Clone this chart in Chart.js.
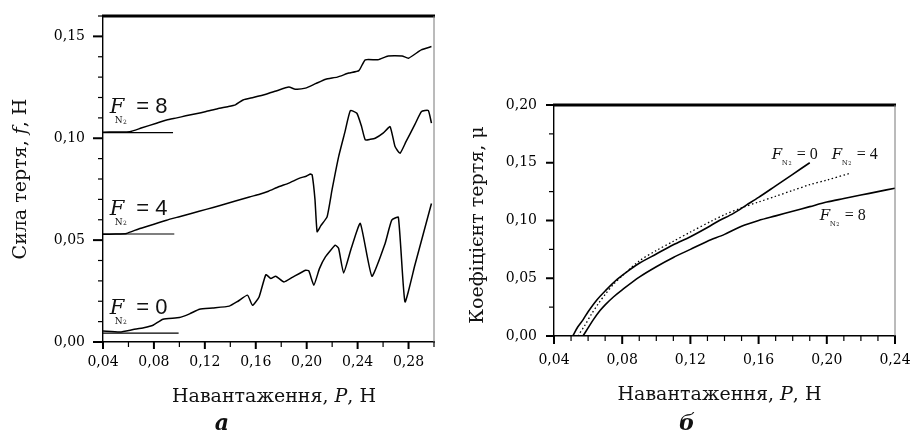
<!DOCTYPE html>
<html><head><meta charset="utf-8">
<script src="https://cdn.jsdelivr.net/npm/chart.js@4"></script>
<style>
html,body{margin:0;padding:0;background:#fff;}
#wrap{position:relative;width:912px;height:433px;background:#fff;}
canvas{position:absolute;left:0;top:0;}
</style></head><body>
<div id="wrap"><canvas id="cA" width="912" height="433"></canvas><canvas id="cB" width="912" height="433"></canvas></div>
<script>
// ---------- Panel а: friction force vs load ----------
const loadA_F8 = [0.040,0.050,0.061,0.070,0.082,0.090,0.098,0.105,0.113,0.121,0.130,0.138,0.144,0.150,0.158,0.168,0.176,0.186,0.191,0.199,0.207,0.215,0.224,0.233,0.241,0.246,0.256,0.264,0.275,0.280,0.290,0.298];
const forceA_F8 = [0.1030,0.1031,0.1032,0.1050,0.1074,0.1090,0.1100,0.1110,0.1120,0.1131,0.1145,0.1155,0.1164,0.1188,0.1200,0.1216,0.1232,0.1251,0.1241,0.1246,0.1268,0.1290,0.1300,0.1320,0.1332,0.1385,0.1385,0.1404,0.1404,0.1393,0.1434,0.1450];
const loadA_F4 = [0.040,0.050,0.0585,0.068,0.080,0.090,0.100,0.110,0.121,0.132,0.144,0.155,0.163,0.170,0.178,0.186,0.194,0.200,0.203,0.2043,0.2065,0.2082,0.211,0.216,0.220,0.2251,0.230,0.2343,0.2394,0.243,0.246,0.250,0.2538,0.260,0.2655,0.2694,0.2733,0.278,0.285,0.2902,0.2955,0.298];
const forceA_F4 = [0.0529,0.0530,0.0533,0.0555,0.0578,0.0598,0.0615,0.0632,0.0651,0.0670,0.0692,0.0712,0.0725,0.0740,0.0762,0.0780,0.0803,0.0815,0.0825,0.0820,0.0700,0.0541,0.0570,0.0614,0.0750,0.0910,0.1030,0.1136,0.1123,0.1060,0.0992,0.0995,0.1000,0.1025,0.1057,0.0959,0.0926,0.0983,0.1068,0.1131,0.1136,0.1074];
const loadA_F0 = [0.040,0.0533,0.0637,0.072,0.0793,0.0871,0.100,0.108,0.1158,0.1262,0.1392,0.146,0.1535,0.1574,0.1626,0.1679,0.1718,0.1757,0.1822,0.1887,0.1991,0.2017,0.2056,0.210,0.2147,0.2225,0.2251,0.229,0.235,0.2421,0.2512,0.2616,0.2668,0.272,0.2772,0.285,0.298];
const forceA_F0 = [0.0054,0.0049,0.0061,0.0070,0.0082,0.0112,0.0120,0.0138,0.0161,0.0167,0.0176,0.0200,0.0230,0.0180,0.0221,0.0330,0.0312,0.0323,0.0295,0.0317,0.0352,0.0349,0.0279,0.0360,0.0418,0.0475,0.0459,0.0339,0.0460,0.0582,0.0323,0.0484,0.0598,0.0612,0.0197,0.0378,0.0680];
// reference (zero-sliding) levels drawn as short horizontal segments
const baseA_load = [[0.040,0.095],[0.040,0.096],[0.040,0.0994]];
const baseA_force = [0.1028,0.0530,0.0044];
const labelsA_N = ['8','4','0'];
const ticksA_x = [0.04,0.06,0.08,0.10,0.12,0.14,0.16,0.18,0.20,0.22,0.24,0.26,0.28,0.30];
const ticksA_y = [0,0.01,0.02,0.03,0.04,0.05,0.06,0.07,0.08,0.09,0.10,0.11,0.12,0.13,0.14,0.15,0.16];

// ---------- Panel б: friction coefficient vs load ----------
const loadB_F0 = [0.051,0.054,0.057,0.060,0.065,0.070,0.077,0.085,0.090,0.100,0.110,0.120,0.130,0.137,0.145,0.153,0.160,0.170,0.180,0.190];
const muB_F0   = [0.000,0.008,0.014,0.021,0.031,0.039,0.049,0.058,0.063,0.071,0.079,0.086,0.094,0.100,0.106,0.1135,0.120,0.130,0.140,0.150];
const loadB_F4 = [0.054,0.058,0.062,0.066,0.070,0.075,0.080,0.090,0.100,0.110,0.120,0.133,0.140,0.150,0.160,0.170,0.180,0.190,0.200,0.214];
const muB_F4   = [0.000,0.009,0.019,0.028,0.036,0.045,0.052,0.065,0.074,0.082,0.090,0.100,0.105,0.111,0.116,0.121,0.126,0.131,0.135,0.141];
const loadB_F8 = [0.057,0.060,0.063,0.067,0.070,0.075,0.080,0.090,0.100,0.110,0.120,0.130,0.140,0.150,0.160,0.170,0.180,0.190,0.200,0.210,0.220,0.230,0.240];
const muB_F8   = [0.000,0.007,0.014,0.022,0.027,0.034,0.040,0.051,0.060,0.068,0.075,0.082,0.088,0.095,0.100,0.104,0.108,0.112,0.116,0.119,0.122,0.125,0.128];
const ticksB_x = [0.04,0.05,0.06,0.07,0.08,0.09,0.10,0.11,0.12,0.13,0.14,0.15,0.16,0.17,0.18,0.19,0.20,0.21,0.22,0.23,0.24];
const ticksB_y = [0,0.025,0.05,0.075,0.10,0.125,0.15,0.175,0.20];

const SERIF = "'DejaVu Serif', serif";
const INK = '#111';
function fmt(v){ return v.toFixed(2).replace('.', ','); }
function isMult(v, step){ return Math.round(v*1000) % Math.round(step*1000) === 0; }
function zip(xs, ys){ return xs.map((x,i)=>({x:x, y:ys[i]})); }

function drawRuns(ctx, runs, x, y, align){
  let total = 0;
  runs.forEach(r=>{ ctx.font = r.font; r.w = ctx.measureText(r.t).width; total += r.w; });
  let cx = align === 'center' ? x - total/2 : x;
  runs.forEach(r=>{ ctx.font = r.font; ctx.fillText(r.t, cx, y + (r.dy||0)); cx += r.w; });
}
// F with subscript N2, then "= n"
function drawFN(ctx, x, y, val, st){
  ctx.save();
  ctx.fillStyle = INK; ctx.textAlign = 'left'; ctx.textBaseline = 'alphabetic';
  ctx.font = `italic ${st.f}px ${SERIF}`;
  ctx.fillText('F', x, y);
  ctx.font = `${st.n}px ${SERIF}`;
  ctx.fillText('N', x + st.nx, y + st.ny);
  const wN = ctx.measureText('N').width;
  ctx.font = `${st.n2}px ${SERIF}`;
  ctx.fillText('2', x + st.nx + wN + 0.5, y + st.ny + 0.5);
  ctx.font = `${st.v}px ${st.vf}`;
  ctx.fillText('= ' + val, x + st.vx, y);
  ctx.restore();
}

function tickPlugin(id, xTicks, yTicks, xMajor, yMajor, lens){
  return {
    id: id,
    afterDraw(chart){
      const ctx = chart.ctx, a = chart.chartArea;
      const xs = chart.scales.x, ys = chart.scales.y;
      ctx.save();
      ctx.strokeStyle = '#000';
      // frame: heavy top line, thin right line
      ctx.lineWidth = 3;
      ctx.beginPath(); ctx.moveTo(a.left-1, a.top); ctx.lineTo(a.right+1, a.top); ctx.stroke();
      ctx.strokeStyle = '#777'; ctx.lineWidth = 1;
      ctx.beginPath(); ctx.moveTo(a.right, a.top); ctx.lineTo(a.right, a.bottom); ctx.stroke();
      ctx.strokeStyle = '#000';
      xTicks.forEach(v=>{
        const px = xs.getPixelForValue(v), maj = isMult(v, xMajor);
        ctx.lineWidth = maj ? 2 : 1.2;
        ctx.beginPath(); ctx.moveTo(px, a.bottom); ctx.lineTo(px, a.bottom + (maj ? lens[0] : lens[1])); ctx.stroke();
      });
      yTicks.forEach(v=>{
        const py = ys.getPixelForValue(v), maj = isMult(v, yMajor);
        ctx.lineWidth = maj ? 2 : 1.2;
        ctx.beginPath(); ctx.moveTo(a.left, py); ctx.lineTo(a.left - (maj ? lens[2] : lens[3]), py); ctx.stroke();
      });
      ctx.restore();
    }
  };
}

function axisCfg(min, max, ticks, major, pad, fit, isX){
  return {
    type: 'linear', min: min, max: max,
    afterBuildTicks: s => { s.ticks = ticks.map(v=>({value:v})); },
    afterFit: s => {
      if (isX) s.height = fit; else s.width = fit;
      s.paddingLeft = 0; s.paddingRight = 0; s.paddingTop = 0; s.paddingBottom = 0;
    },
    ticks: { autoSkip: false, maxRotation: 0, padding: pad, color: '#000',
      font: { family: SERIF, size: 14 },
      callback: v => isMult(v, major) ? fmt(v) : '' },
    grid: { display: true, drawOnChartArea: false, drawTicks: false },
    border: { display: true, color: '#000', width: 1.4 }
  };
}

const TITLE = 19;
function xTitle(ctx, cx, y){
  drawRuns(ctx, [
    {t:'Навантаження, ', font:`${TITLE}px ${SERIF}`},
    {t:'P', font:`italic ${TITLE}px ${SERIF}`},
    {t:', Н', font:`${TITLE}px ${SERIF}`}], cx, y, 'center');
}

// ---------- chart а ----------
const dsA = [
  { data: zip(loadA_F8, forceA_F8) },
  { data: zip(loadA_F4, forceA_F4) },
  { data: zip(loadA_F0, forceA_F0) }
];
baseA_load.forEach((seg,i)=>{ dsA.push({ data: [{x:seg[0], y:baseA_force[i]},{x:seg[1], y:baseA_force[i]}], borderWidth: 1.2 }); });

const styleA = { f: 21, n: 9, n2: 6, nx: 5, ny: 10, v: 22, vf: "'Liberation Sans', sans-serif", vx: 26.5 };
const styleB = { f: 15, n: 7, n2: 5, nx: 10, ny: 6, v: 16, vf: "'Liberation Serif', serif", vx: 25 };

const textA = {
  id: 'textA',
  afterDraw(chart){
    const ctx = chart.ctx, xs = chart.scales.x, ys = chart.scales.y;
    ctx.save(); ctx.fillStyle = INK; ctx.textBaseline = 'alphabetic';
    labelsA_N.forEach((n,i)=>{
      drawFN(ctx, xs.getPixelForValue(0.0453), ys.getPixelForValue(baseA_force[i]) - 19.5, n, styleA);
    });
    xTitle(ctx, 274, 401.5);
    ctx.save(); ctx.translate(26, 179); ctx.rotate(-Math.PI/2);
    drawRuns(ctx, [
      {t:'Сила тертя, ', font:`${TITLE}px ${SERIF}`},
      {t:'f', font:`italic ${TITLE}px ${SERIF}`},
      {t:', Н', font:`${TITLE}px ${SERIF}`}], 0, 0, 'center');
    ctx.restore();
    ctx.textAlign = 'center';
    ctx.font = `italic bold 22px ${SERIF}`;
    ctx.fillText('а', 222, 430);
    ctx.restore();
  }
};

new Chart(document.getElementById('cA'), {
  type: 'line',
  data: { datasets: dsA },
  options: {
    responsive: false, animation: false,
    layout: { padding: { left: 43, right: 478, top: 16, bottom: 51 } },
    plugins: { legend: { display: false }, tooltip: { enabled: false } },
    elements: { point: { radius: 0 }, line: { tension: 0.15, borderWidth: 1.5, borderColor: '#000', fill: false } },
    scales: {
      x: axisCfg(0.04, 0.30, ticksA_x, 0.04, 12, 40, true),
      y: axisCfg(0, 0.16, ticksA_y, 0.05, 18, 60, false)
    }
  },
  plugins: [tickPlugin('ticksA', ticksA_x, ticksA_y, 0.04, 0.05, [7,5,10,5]), textA]
});

// ---------- chart б ----------
const textB = {
  id: 'textB',
  afterDraw(chart){
    const ctx = chart.ctx, xs = chart.scales.x, ys = chart.scales.y;
    ctx.save(); ctx.fillStyle = INK; ctx.textBaseline = 'alphabetic';
    const yTopLbl = ys.getPixelForValue(muB_F0[muB_F0.length-1]) - 4;
    drawFN(ctx, xs.getPixelForValue(loadB_F0[loadB_F0.length-1]) - 38, yTopLbl, '0', styleB);
    drawFN(ctx, xs.getPixelForValue(loadB_F4[loadB_F4.length-1]) - 19, yTopLbl, '4', styleB);
    drawFN(ctx, xs.getPixelForValue(0.1958), ys.getPixelForValue(0.1005), '8', styleB);
    xTitle(ctx, 719.5, 400);
    ctx.save(); ctx.translate(483, 225); ctx.rotate(-Math.PI/2);
    drawRuns(ctx, [{t:'Коефіцієнт тертя, μ', font:`${TITLE}px ${SERIF}`}], 0, 0, 'center');
    ctx.restore();
    ctx.textAlign = 'center';
    ctx.font = `italic bold 22px ${SERIF}`;
    ctx.fillText('б', 687, 430);
    ctx.restore();
  }
};

new Chart(document.getElementById('cB'), {
  type: 'line',
  data: { datasets: [
    { data: zip(loadB_F0, muB_F0) },
    { data: zip(loadB_F4, muB_F4), borderDash: [1.5, 2.5], borderWidth: 1.3 },
    { data: zip(loadB_F8, muB_F8) }
  ] },
  options: {
    responsive: false, animation: false,
    layout: { padding: { left: 494, right: 17, top: 105, bottom: 57 } },
    plugins: { legend: { display: false }, tooltip: { enabled: false } },
    elements: { point: { radius: 0 }, line: { tension: 0.3, borderWidth: 1.6, borderColor: '#000', fill: false } },
    scales: {
      x: axisCfg(0.04, 0.24, ticksB_x, 0.04, 15.5, 40, true),
      y: axisCfg(0, 0.20, ticksB_y, 0.05, 17, 60, false)
    }
  },
  plugins: [tickPlugin('ticksB', ticksB_x, ticksB_y, 0.04, 0.05, [8,5,8,5]), textB]
});
</script>
</body></html>
